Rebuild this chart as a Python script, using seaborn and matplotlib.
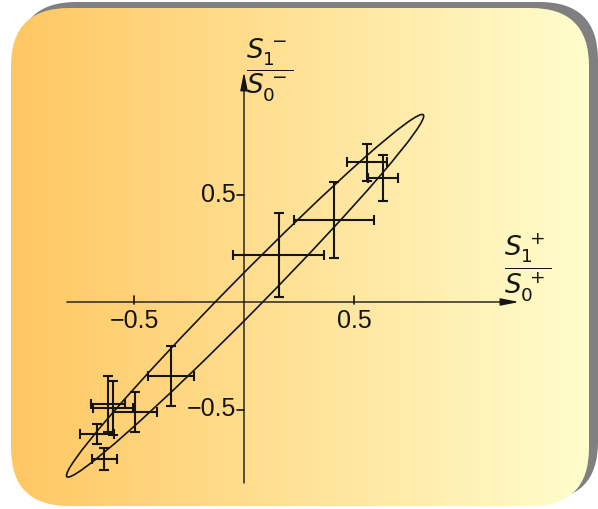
import numpy as np
import matplotlib
matplotlib.use("Agg")
import matplotlib.pyplot as plt
from matplotlib.patches import Ellipse, FancyBboxPatch
import seaborn as sns

# measured points (S1+/S0+, S1-/S0-) with their error half-widths
px   = [0.559, 0.632, 0.409, 0.157, -0.332, -0.618, -0.595, -0.495, -0.668, -0.636]
py   = [0.650, 0.577, 0.381, 0.219, -0.344, -0.474, -0.493, -0.512, -0.614, -0.730]
xerr = [0.090, 0.070, 0.182, 0.205, 0.104, 0.077, 0.091, 0.100, 0.077, 0.057]
yerr = [0.085, 0.107, 0.177, 0.195, 0.140, 0.130, 0.126, 0.093, 0.047, 0.053]

# allowed region (ellipse)
ell_center = (0.005, 0.029)
ell_major  = 2.336
ell_minor  = 0.156
ell_angle  = 46.1

xticks = [-0.5, 0.5]
xtick_labels = ["\u22120.5", "0.5"]
yticks = [0.5, -0.5]
ytick_labels = ["0.5", "\u22120.5"]

sns.set_theme(style="white")
plt.rcParams["font.family"] = ["Liberation Sans", "DejaVu Sans"]

ink = "#141414"

fig = plt.figure(figsize=(5.98, 5.09), dpi=100)
fig.patch.set_facecolor("white")

# background card: gray shadow + horizontal orange->pale yellow gradient
bg = fig.add_axes([0, 0, 1, 1])
bg.set_xlim(0, 598); bg.set_ylim(509, 0); bg.axis("off")
shadow = FancyBboxPatch((18, 2), 580, 498, boxstyle="round,pad=0,rounding_size=58",
                        fc="#808080", ec="none")
bg.add_patch(shadow)
card = FancyBboxPatch((11, 8), 578, 498, boxstyle="round,pad=0,rounding_size=58",
                      fc="none", ec="none")
bg.add_patch(card)
t = np.linspace(0, 1, 300)[None, :, None]
c0 = np.array([255, 199, 98]) / 255
c1 = np.array([255, 253, 205]) / 255
grad = c0 + (c1 - c0) * t
im = bg.imshow(grad, extent=(11, 589, 506, 8), aspect="auto", zorder=1)
im.set_clip_path(card)

# chart
ax = fig.add_axes([0, 0, 1, 1])
ax.patch.set_alpha(0)
ax.set_xlim(-244 / 220, 354 / 220)
ax.set_ylim((302 - 509) / 215, 302 / 215)
ax.axis("off")

arrow = dict(arrowstyle="-|>,head_length=1.1,head_width=0.22", lw=1.0,
             color=ink, mutation_scale=10, shrinkA=0, shrinkB=0)
ax.annotate("", xy=(1.25, 0), xytext=(-0.805, 0), arrowprops=arrow)
ax.annotate("", xy=(0, 1.07), xytext=(0, -0.842), arrowprops=arrow)

for xt, lab in zip(xticks, xtick_labels):
    ax.plot([xt, xt], [-0.008, 0.028], color=ink, lw=1.2)
    ax.text(xt, -0.088, lab, ha="center", va="center", fontsize=18, color=ink)
for yt, lab in zip(yticks, ytick_labels):
    ax.plot([-0.032, 0], [yt, yt], color=ink, lw=1.2)
    ax.text(-0.036, yt, lab, ha="right", va="center", fontsize=18, color=ink)

ax.add_patch(Ellipse(ell_center, ell_major, ell_minor, angle=ell_angle,
                     fill=False, ec=ink, lw=1.2))

ax.errorbar(px, py, xerr=xerr, yerr=yerr, fmt="none", ecolor=ink,
            elinewidth=1.5, capsize=3.5, capthick=1.5)

ax.text(0.118, 1.079, r"$\dfrac{S_1^{\,-}}{S_0^{\,-}}$", ha="center", va="center",
        fontsize=19, color=ink)
ax.text(1.29, 0.158, r"$\dfrac{S_1^{\,+}}{S_0^{\,+}}$", ha="center", va="center",
        fontsize=19, color=ink)

fig.savefig("out.png", dpi=100)
